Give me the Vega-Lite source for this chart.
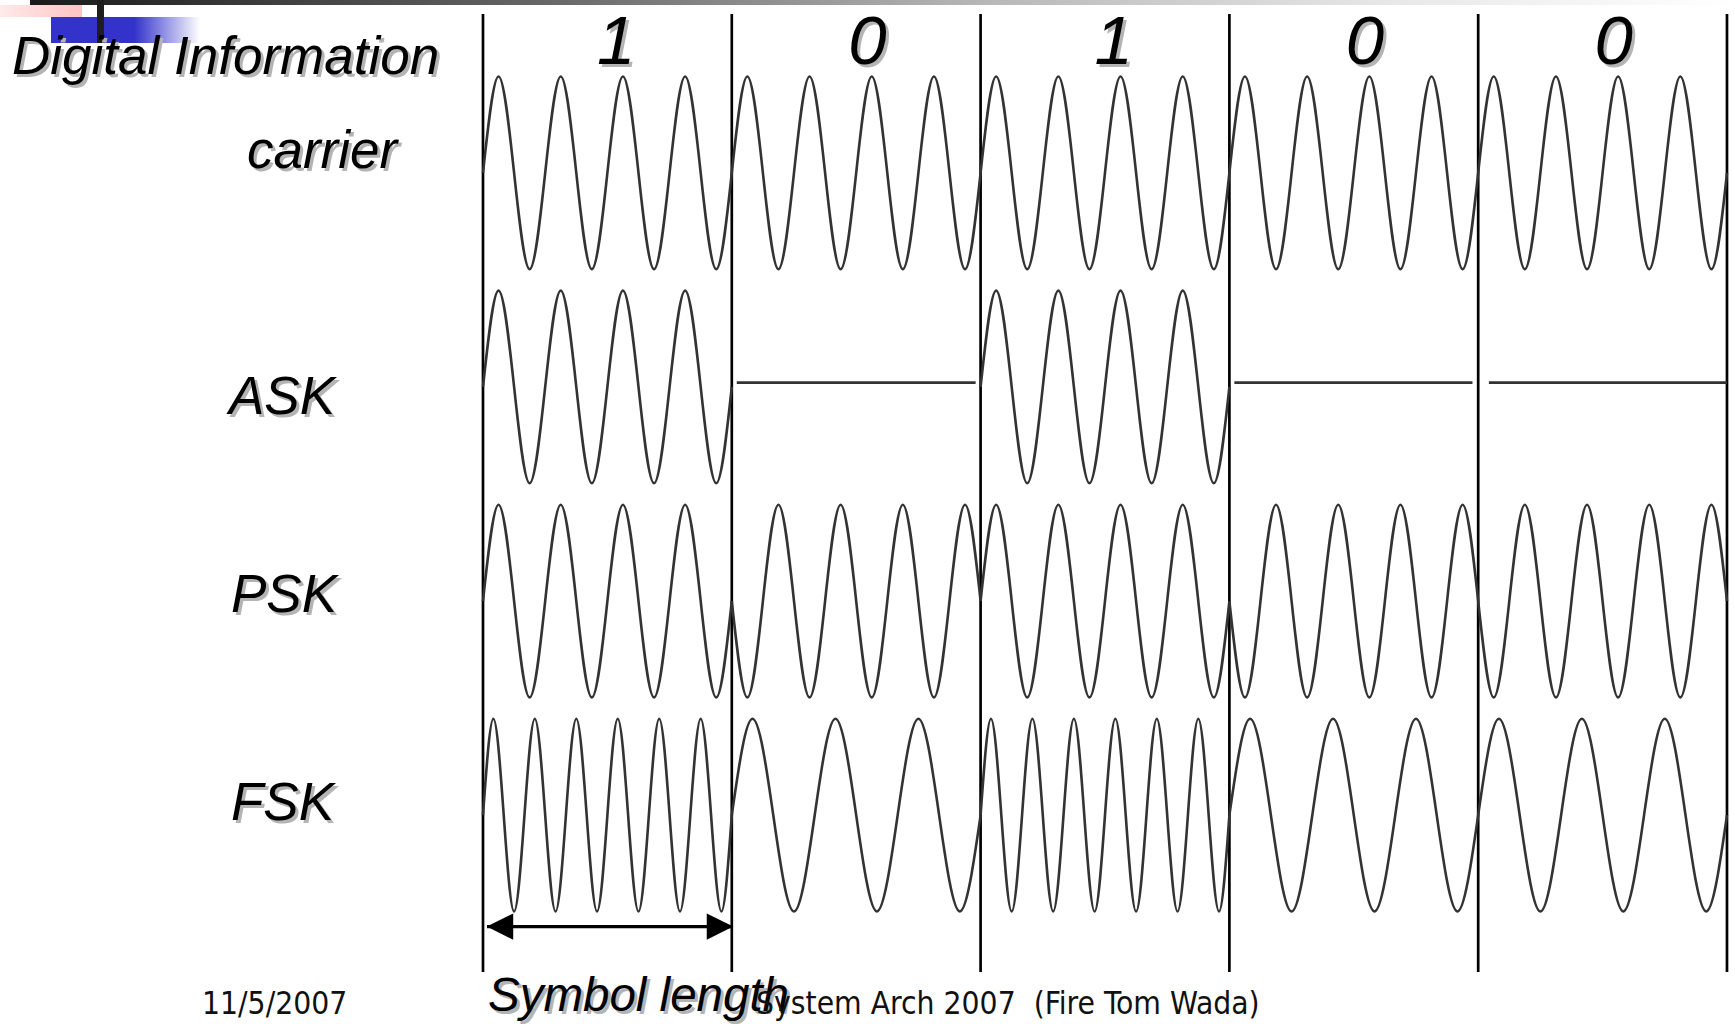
{
  "$schema": "https://vega.github.io/schema/vega-lite/v6.json",
  "width": 1735,
  "height": 1024,
  "autosize": {"type": "fit", "contains": "padding"},
  "padding": 0,
  "background": "white",
  "config": {"view": {"stroke": null}},
  "datasets": {
    "waves": [
      {"s":"carrier","g":"c","t":0,"y":0},{"s":"carrier","g":"c","t":0.0625,"y":0.45},{"s":"carrier","g":"c","t":0.125,"y":0},{"s":"carrier","g":"c","t":0.1875,"y":-0.45},
      {"s":"carrier","g":"c","t":0.25,"y":0},{"s":"carrier","g":"c","t":0.3125,"y":0.45},{"s":"carrier","g":"c","t":0.375,"y":0},{"s":"carrier","g":"c","t":0.4375,"y":-0.45},
      {"s":"carrier","g":"c","t":0.5,"y":0},{"s":"carrier","g":"c","t":0.5625,"y":0.45},{"s":"carrier","g":"c","t":0.625,"y":0},{"s":"carrier","g":"c","t":0.6875,"y":-0.45},
      {"s":"carrier","g":"c","t":0.75,"y":0},{"s":"carrier","g":"c","t":0.8125,"y":0.45},{"s":"carrier","g":"c","t":0.875,"y":0},{"s":"carrier","g":"c","t":0.9375,"y":-0.45},
      {"s":"carrier","g":"c","t":1,"y":0},{"s":"carrier","g":"c","t":1.0625,"y":0.45},{"s":"carrier","g":"c","t":1.125,"y":0},{"s":"carrier","g":"c","t":1.1875,"y":-0.45},
      {"s":"carrier","g":"c","t":1.25,"y":0},{"s":"carrier","g":"c","t":1.3125,"y":0.45},{"s":"carrier","g":"c","t":1.375,"y":0},{"s":"carrier","g":"c","t":1.4375,"y":-0.45},
      {"s":"carrier","g":"c","t":1.5,"y":0},{"s":"carrier","g":"c","t":1.5625,"y":0.45},{"s":"carrier","g":"c","t":1.625,"y":0},{"s":"carrier","g":"c","t":1.6875,"y":-0.45},
      {"s":"carrier","g":"c","t":1.75,"y":0},{"s":"carrier","g":"c","t":1.8125,"y":0.45},{"s":"carrier","g":"c","t":1.875,"y":0},{"s":"carrier","g":"c","t":1.9375,"y":-0.45},
      {"s":"carrier","g":"c","t":2,"y":0},{"s":"carrier","g":"c","t":2.0625,"y":0.45},{"s":"carrier","g":"c","t":2.125,"y":0},{"s":"carrier","g":"c","t":2.1875,"y":-0.45},
      {"s":"carrier","g":"c","t":2.25,"y":0},{"s":"carrier","g":"c","t":2.3125,"y":0.45},{"s":"carrier","g":"c","t":2.375,"y":0},{"s":"carrier","g":"c","t":2.4375,"y":-0.45},
      {"s":"carrier","g":"c","t":2.5,"y":0},{"s":"carrier","g":"c","t":2.5625,"y":0.45},{"s":"carrier","g":"c","t":2.625,"y":0},{"s":"carrier","g":"c","t":2.6875,"y":-0.45},
      {"s":"carrier","g":"c","t":2.75,"y":0},{"s":"carrier","g":"c","t":2.8125,"y":0.45},{"s":"carrier","g":"c","t":2.875,"y":0},{"s":"carrier","g":"c","t":2.9375,"y":-0.45},
      {"s":"carrier","g":"c","t":3,"y":0},{"s":"carrier","g":"c","t":3.0625,"y":0.45},{"s":"carrier","g":"c","t":3.125,"y":0},{"s":"carrier","g":"c","t":3.1875,"y":-0.45},
      {"s":"carrier","g":"c","t":3.25,"y":0},{"s":"carrier","g":"c","t":3.3125,"y":0.45},{"s":"carrier","g":"c","t":3.375,"y":0},{"s":"carrier","g":"c","t":3.4375,"y":-0.45},
      {"s":"carrier","g":"c","t":3.5,"y":0},{"s":"carrier","g":"c","t":3.5625,"y":0.45},{"s":"carrier","g":"c","t":3.625,"y":0},{"s":"carrier","g":"c","t":3.6875,"y":-0.45},
      {"s":"carrier","g":"c","t":3.75,"y":0},{"s":"carrier","g":"c","t":3.8125,"y":0.45},{"s":"carrier","g":"c","t":3.875,"y":0},{"s":"carrier","g":"c","t":3.9375,"y":-0.45},
      {"s":"carrier","g":"c","t":4,"y":0},{"s":"carrier","g":"c","t":4.0625,"y":0.45},{"s":"carrier","g":"c","t":4.125,"y":0},{"s":"carrier","g":"c","t":4.1875,"y":-0.45},
      {"s":"carrier","g":"c","t":4.25,"y":0},{"s":"carrier","g":"c","t":4.3125,"y":0.45},{"s":"carrier","g":"c","t":4.375,"y":0},{"s":"carrier","g":"c","t":4.4375,"y":-0.45},
      {"s":"carrier","g":"c","t":4.5,"y":0},{"s":"carrier","g":"c","t":4.5625,"y":0.45},{"s":"carrier","g":"c","t":4.625,"y":0},{"s":"carrier","g":"c","t":4.6875,"y":-0.45},
      {"s":"carrier","g":"c","t":4.75,"y":0},{"s":"carrier","g":"c","t":4.8125,"y":0.45},{"s":"carrier","g":"c","t":4.875,"y":0},{"s":"carrier","g":"c","t":4.9375,"y":-0.45},
      {"s":"carrier","g":"c","t":5,"y":0},

      {"s":"ask","g":"a0","t":0,"y":-1},{"s":"ask","g":"a0","t":0.0625,"y":-0.55},{"s":"ask","g":"a0","t":0.125,"y":-1},{"s":"ask","g":"a0","t":0.1875,"y":-1.45},
      {"s":"ask","g":"a0","t":0.25,"y":-1},{"s":"ask","g":"a0","t":0.3125,"y":-0.55},{"s":"ask","g":"a0","t":0.375,"y":-1},{"s":"ask","g":"a0","t":0.4375,"y":-1.45},
      {"s":"ask","g":"a0","t":0.5,"y":-1},{"s":"ask","g":"a0","t":0.5625,"y":-0.55},{"s":"ask","g":"a0","t":0.625,"y":-1},{"s":"ask","g":"a0","t":0.6875,"y":-1.45},
      {"s":"ask","g":"a0","t":0.75,"y":-1},{"s":"ask","g":"a0","t":0.8125,"y":-0.55},{"s":"ask","g":"a0","t":0.875,"y":-1},{"s":"ask","g":"a0","t":0.9375,"y":-1.45},
      {"s":"ask","g":"a0","t":1,"y":-1},
      {"s":"askflat","g":"a1","t":1.02,"y":-0.98},{"s":"askflat","g":"a1","t":1.98,"y":-0.98},
      {"s":"ask","g":"a2","t":2,"y":-1},{"s":"ask","g":"a2","t":2.0625,"y":-0.55},{"s":"ask","g":"a2","t":2.125,"y":-1},{"s":"ask","g":"a2","t":2.1875,"y":-1.45},
      {"s":"ask","g":"a2","t":2.25,"y":-1},{"s":"ask","g":"a2","t":2.3125,"y":-0.55},{"s":"ask","g":"a2","t":2.375,"y":-1},{"s":"ask","g":"a2","t":2.4375,"y":-1.45},
      {"s":"ask","g":"a2","t":2.5,"y":-1},{"s":"ask","g":"a2","t":2.5625,"y":-0.55},{"s":"ask","g":"a2","t":2.625,"y":-1},{"s":"ask","g":"a2","t":2.6875,"y":-1.45},
      {"s":"ask","g":"a2","t":2.75,"y":-1},{"s":"ask","g":"a2","t":2.8125,"y":-0.55},{"s":"ask","g":"a2","t":2.875,"y":-1},{"s":"ask","g":"a2","t":2.9375,"y":-1.45},
      {"s":"ask","g":"a2","t":3,"y":-1},
      {"s":"askflat","g":"a3","t":3.02,"y":-0.98},{"s":"askflat","g":"a3","t":3.977,"y":-0.98},
      {"s":"askflat","g":"a4","t":4.043,"y":-0.98},{"s":"askflat","g":"a4","t":5.0,"y":-0.98},

      {"s":"psk","g":"p0","t":0,"y":-2},{"s":"psk","g":"p0","t":0.0625,"y":-1.55},{"s":"psk","g":"p0","t":0.125,"y":-2},{"s":"psk","g":"p0","t":0.1875,"y":-2.45},
      {"s":"psk","g":"p0","t":0.25,"y":-2},{"s":"psk","g":"p0","t":0.3125,"y":-1.55},{"s":"psk","g":"p0","t":0.375,"y":-2},{"s":"psk","g":"p0","t":0.4375,"y":-2.45},
      {"s":"psk","g":"p0","t":0.5,"y":-2},{"s":"psk","g":"p0","t":0.5625,"y":-1.55},{"s":"psk","g":"p0","t":0.625,"y":-2},{"s":"psk","g":"p0","t":0.6875,"y":-2.45},
      {"s":"psk","g":"p0","t":0.75,"y":-2},{"s":"psk","g":"p0","t":0.8125,"y":-1.55},{"s":"psk","g":"p0","t":0.875,"y":-2},{"s":"psk","g":"p0","t":0.9375,"y":-2.45},
      {"s":"psk","g":"p0","t":1,"y":-2},
      {"s":"psk","g":"p1","t":1,"y":-2},{"s":"psk","g":"p1","t":1.0625,"y":-2.45},{"s":"psk","g":"p1","t":1.125,"y":-2},{"s":"psk","g":"p1","t":1.1875,"y":-1.55},
      {"s":"psk","g":"p1","t":1.25,"y":-2},{"s":"psk","g":"p1","t":1.3125,"y":-2.45},{"s":"psk","g":"p1","t":1.375,"y":-2},{"s":"psk","g":"p1","t":1.4375,"y":-1.55},
      {"s":"psk","g":"p1","t":1.5,"y":-2},{"s":"psk","g":"p1","t":1.5625,"y":-2.45},{"s":"psk","g":"p1","t":1.625,"y":-2},{"s":"psk","g":"p1","t":1.6875,"y":-1.55},
      {"s":"psk","g":"p1","t":1.75,"y":-2},{"s":"psk","g":"p1","t":1.8125,"y":-2.45},{"s":"psk","g":"p1","t":1.875,"y":-2},{"s":"psk","g":"p1","t":1.9375,"y":-1.55},
      {"s":"psk","g":"p1","t":2,"y":-2},
      {"s":"psk","g":"p2","t":2,"y":-2},{"s":"psk","g":"p2","t":2.0625,"y":-1.55},{"s":"psk","g":"p2","t":2.125,"y":-2},{"s":"psk","g":"p2","t":2.1875,"y":-2.45},
      {"s":"psk","g":"p2","t":2.25,"y":-2},{"s":"psk","g":"p2","t":2.3125,"y":-1.55},{"s":"psk","g":"p2","t":2.375,"y":-2},{"s":"psk","g":"p2","t":2.4375,"y":-2.45},
      {"s":"psk","g":"p2","t":2.5,"y":-2},{"s":"psk","g":"p2","t":2.5625,"y":-1.55},{"s":"psk","g":"p2","t":2.625,"y":-2},{"s":"psk","g":"p2","t":2.6875,"y":-2.45},
      {"s":"psk","g":"p2","t":2.75,"y":-2},{"s":"psk","g":"p2","t":2.8125,"y":-1.55},{"s":"psk","g":"p2","t":2.875,"y":-2},{"s":"psk","g":"p2","t":2.9375,"y":-2.45},
      {"s":"psk","g":"p2","t":3,"y":-2},
      {"s":"psk","g":"p3","t":3,"y":-2},{"s":"psk","g":"p3","t":3.0625,"y":-2.45},{"s":"psk","g":"p3","t":3.125,"y":-2},{"s":"psk","g":"p3","t":3.1875,"y":-1.55},
      {"s":"psk","g":"p3","t":3.25,"y":-2},{"s":"psk","g":"p3","t":3.3125,"y":-2.45},{"s":"psk","g":"p3","t":3.375,"y":-2},{"s":"psk","g":"p3","t":3.4375,"y":-1.55},
      {"s":"psk","g":"p3","t":3.5,"y":-2},{"s":"psk","g":"p3","t":3.5625,"y":-2.45},{"s":"psk","g":"p3","t":3.625,"y":-2},{"s":"psk","g":"p3","t":3.6875,"y":-1.55},
      {"s":"psk","g":"p3","t":3.75,"y":-2},{"s":"psk","g":"p3","t":3.8125,"y":-2.45},{"s":"psk","g":"p3","t":3.875,"y":-2},{"s":"psk","g":"p3","t":3.9375,"y":-1.55},
      {"s":"psk","g":"p3","t":4,"y":-2},
      {"s":"psk","g":"p4","t":4,"y":-2},{"s":"psk","g":"p4","t":4.0625,"y":-2.45},{"s":"psk","g":"p4","t":4.125,"y":-2},{"s":"psk","g":"p4","t":4.1875,"y":-1.55},
      {"s":"psk","g":"p4","t":4.25,"y":-2},{"s":"psk","g":"p4","t":4.3125,"y":-2.45},{"s":"psk","g":"p4","t":4.375,"y":-2},{"s":"psk","g":"p4","t":4.4375,"y":-1.55},
      {"s":"psk","g":"p4","t":4.5,"y":-2},{"s":"psk","g":"p4","t":4.5625,"y":-2.45},{"s":"psk","g":"p4","t":4.625,"y":-2},{"s":"psk","g":"p4","t":4.6875,"y":-1.55},
      {"s":"psk","g":"p4","t":4.75,"y":-2},{"s":"psk","g":"p4","t":4.8125,"y":-2.45},{"s":"psk","g":"p4","t":4.875,"y":-2},{"s":"psk","g":"p4","t":4.9375,"y":-1.55},
      {"s":"psk","g":"p4","t":5,"y":-2},

      {"s":"fsk1","g":"f0","t":0,"y":-3},{"s":"fsk1","g":"f0","t":0.0417,"y":-2.55},{"s":"fsk1","g":"f0","t":0.0833,"y":-3},{"s":"fsk1","g":"f0","t":0.125,"y":-3.45},
      {"s":"fsk1","g":"f0","t":0.1667,"y":-3},{"s":"fsk1","g":"f0","t":0.2083,"y":-2.55},{"s":"fsk1","g":"f0","t":0.25,"y":-3},{"s":"fsk1","g":"f0","t":0.2917,"y":-3.45},
      {"s":"fsk1","g":"f0","t":0.3333,"y":-3},{"s":"fsk1","g":"f0","t":0.375,"y":-2.55},{"s":"fsk1","g":"f0","t":0.4167,"y":-3},{"s":"fsk1","g":"f0","t":0.4583,"y":-3.45},
      {"s":"fsk1","g":"f0","t":0.5,"y":-3},{"s":"fsk1","g":"f0","t":0.5417,"y":-2.55},{"s":"fsk1","g":"f0","t":0.5833,"y":-3},{"s":"fsk1","g":"f0","t":0.625,"y":-3.45},
      {"s":"fsk1","g":"f0","t":0.6667,"y":-3},{"s":"fsk1","g":"f0","t":0.7083,"y":-2.55},{"s":"fsk1","g":"f0","t":0.75,"y":-3},{"s":"fsk1","g":"f0","t":0.7917,"y":-3.45},
      {"s":"fsk1","g":"f0","t":0.8333,"y":-3},{"s":"fsk1","g":"f0","t":0.875,"y":-2.55},{"s":"fsk1","g":"f0","t":0.9167,"y":-3},{"s":"fsk1","g":"f0","t":0.9583,"y":-3.45},
      {"s":"fsk1","g":"f0","t":1,"y":-3},
      {"s":"fsk0","g":"f1","t":1,"y":-3},{"s":"fsk0","g":"f1","t":1.0833,"y":-2.55},{"s":"fsk0","g":"f1","t":1.1667,"y":-3},{"s":"fsk0","g":"f1","t":1.25,"y":-3.45},
      {"s":"fsk0","g":"f1","t":1.3333,"y":-3},{"s":"fsk0","g":"f1","t":1.4167,"y":-2.55},{"s":"fsk0","g":"f1","t":1.5,"y":-3},{"s":"fsk0","g":"f1","t":1.5833,"y":-3.45},
      {"s":"fsk0","g":"f1","t":1.6667,"y":-3},{"s":"fsk0","g":"f1","t":1.75,"y":-2.55},{"s":"fsk0","g":"f1","t":1.8333,"y":-3},{"s":"fsk0","g":"f1","t":1.9167,"y":-3.45},
      {"s":"fsk0","g":"f1","t":2,"y":-3},
      {"s":"fsk1","g":"f2","t":2,"y":-3},{"s":"fsk1","g":"f2","t":2.0417,"y":-2.55},{"s":"fsk1","g":"f2","t":2.0833,"y":-3},{"s":"fsk1","g":"f2","t":2.125,"y":-3.45},
      {"s":"fsk1","g":"f2","t":2.1667,"y":-3},{"s":"fsk1","g":"f2","t":2.2083,"y":-2.55},{"s":"fsk1","g":"f2","t":2.25,"y":-3},{"s":"fsk1","g":"f2","t":2.2917,"y":-3.45},
      {"s":"fsk1","g":"f2","t":2.3333,"y":-3},{"s":"fsk1","g":"f2","t":2.375,"y":-2.55},{"s":"fsk1","g":"f2","t":2.4167,"y":-3},{"s":"fsk1","g":"f2","t":2.4583,"y":-3.45},
      {"s":"fsk1","g":"f2","t":2.5,"y":-3},{"s":"fsk1","g":"f2","t":2.5417,"y":-2.55},{"s":"fsk1","g":"f2","t":2.5833,"y":-3},{"s":"fsk1","g":"f2","t":2.625,"y":-3.45},
      {"s":"fsk1","g":"f2","t":2.6667,"y":-3},{"s":"fsk1","g":"f2","t":2.7083,"y":-2.55},{"s":"fsk1","g":"f2","t":2.75,"y":-3},{"s":"fsk1","g":"f2","t":2.7917,"y":-3.45},
      {"s":"fsk1","g":"f2","t":2.8333,"y":-3},{"s":"fsk1","g":"f2","t":2.875,"y":-2.55},{"s":"fsk1","g":"f2","t":2.9167,"y":-3},{"s":"fsk1","g":"f2","t":2.9583,"y":-3.45},
      {"s":"fsk1","g":"f2","t":3,"y":-3},
      {"s":"fsk0","g":"f3","t":3,"y":-3},{"s":"fsk0","g":"f3","t":3.0833,"y":-2.55},{"s":"fsk0","g":"f3","t":3.1667,"y":-3},{"s":"fsk0","g":"f3","t":3.25,"y":-3.45},
      {"s":"fsk0","g":"f3","t":3.3333,"y":-3},{"s":"fsk0","g":"f3","t":3.4167,"y":-2.55},{"s":"fsk0","g":"f3","t":3.5,"y":-3},{"s":"fsk0","g":"f3","t":3.5833,"y":-3.45},
      {"s":"fsk0","g":"f3","t":3.6667,"y":-3},{"s":"fsk0","g":"f3","t":3.75,"y":-2.55},{"s":"fsk0","g":"f3","t":3.8333,"y":-3},{"s":"fsk0","g":"f3","t":3.9167,"y":-3.45},
      {"s":"fsk0","g":"f3","t":4,"y":-3},
      {"s":"fsk0","g":"f4","t":4,"y":-3},{"s":"fsk0","g":"f4","t":4.0833,"y":-2.55},{"s":"fsk0","g":"f4","t":4.1667,"y":-3},{"s":"fsk0","g":"f4","t":4.25,"y":-3.45},
      {"s":"fsk0","g":"f4","t":4.3333,"y":-3},{"s":"fsk0","g":"f4","t":4.4167,"y":-2.55},{"s":"fsk0","g":"f4","t":4.5,"y":-3},{"s":"fsk0","g":"f4","t":4.5833,"y":-3.45},
      {"s":"fsk0","g":"f4","t":4.6667,"y":-3},{"s":"fsk0","g":"f4","t":4.75,"y":-2.55},{"s":"fsk0","g":"f4","t":4.8333,"y":-3},{"s":"fsk0","g":"f4","t":4.9167,"y":-3.45},
      {"s":"fsk0","g":"f4","t":5,"y":-3}
    ],
    "rules": [
      {"t":0,"y":0.742,"y2":-3.733},{"t":1,"y":0.742,"y2":-3.733},{"t":2,"y":0.742,"y2":-3.733},
      {"t":3,"y":0.742,"y2":-3.733},{"t":4,"y":0.742,"y2":-3.733},{"t":5,"y":0.742,"y2":-3.733}
    ],
    "labels": [
      {"txt":"Digital Information","k":"label","t":-1.8931,"y":0.462},
      {"txt":"carrier","k":"label","t":-0.9486,"y":0.0234},
      {"txt":"ASK","k":"label","t":-1.0209,"y":-1.1246},
      {"txt":"PSK","k":"label","t":-1.0129,"y":-2.0532},
      {"txt":"FSK","k":"label","t":-1.0129,"y":-3.0238},
      {"txt":"Symbol length","k":"note","t":0.0201,"y":-3.9151}
    ],
    "bits": [
      {"bit":"1","t":0.535,"y":0.5087},{"bit":"0","t":1.545,"y":0.5087},{"bit":"1","t":2.535,"y":0.5087},
      {"bit":"0","t":3.545,"y":0.5087},{"bit":"0","t":4.545,"y":0.5087}
    ],
    "footer": [
      {"txt":"11/5/2007","t":-1.1294,"y":-3.9291},
      {"txt":"System Arch 2007\u00a0\u00a0(Fire Tom Wada)","t":1.0973,"y":-3.9291}
    ],
    "arrowline": [
      {"t":0.0161,"y":-3.5208},{"t":1.0048,"y":-3.5208}
    ],
    "arrowheads": [
      {"d":"left","t":0.0683,"y":-3.5208},{"d":"right","t":0.9526,"y":-3.5208}
    ],
    "topbar": [{"t":-1.8208,"t2":5.0322,"y":0.8073,"y2":0.784}],
    "pink": [{"t":-1.9413,"t2":-1.6117,"y":0.784,"y2":0.7279}],
    "blue": [{"t":-1.7363,"t2":-1.1375,"y":0.7279,"y2":0.6059}],
    "darkbar": [{"t":-1.5514,"t2":-1.5233,"y":0.8073,"y2":0.6066}]
  },
  "encoding": {
    "x": {"field": "t", "type": "quantitative", "axis": null, "scale": {"domain": [-1.9413, 5.0322], "nice": false, "zero": false}},
    "y": {"field": "y", "type": "quantitative", "axis": null, "scale": {"domain": [-3.971, 0.8073], "nice": false, "zero": false}}
  },
  "layer": [
    {
      "data": {"name": "topbar"},
      "mark": {"type": "rect", "fill": {"gradient": "linear", "x1": 0, "y1": 0, "x2": 1, "y2": 0, "stops": [{"offset": 0, "color": "#1a1a1a"}, {"offset": 0.3, "color": "#666666"}, {"offset": 0.55, "color": "#b5b5b5"}, {"offset": 0.8, "color": "#e8e8e8"}, {"offset": 1, "color": "#ffffff"}]}},
      "encoding": {"x2": {"field": "t2"}, "y2": {"field": "y2"}}
    },
    {
      "data": {"name": "pink"},
      "mark": {"type": "rect", "fill": {"gradient": "linear", "x1": 0, "y1": 0, "x2": 1, "y2": 0, "stops": [{"offset": 0, "color": "#ffeaea"}, {"offset": 1, "color": "#ffc4c4"}]}},
      "encoding": {"x2": {"field": "t2"}, "y2": {"field": "y2"}}
    },
    {
      "data": {"name": "blue"},
      "mark": {"type": "rect", "fill": {"gradient": "linear", "x1": 0, "y1": 0, "x2": 1, "y2": 0, "stops": [{"offset": 0, "color": "#3333cc"}, {"offset": 0.56, "color": "#3333cc"}, {"offset": 1, "color": "#ffffff"}]}},
      "encoding": {"x2": {"field": "t2"}, "y2": {"field": "y2"}}
    },
    {
      "data": {"name": "darkbar"},
      "mark": {"type": "rect", "fill": "#1e1e1e"},
      "encoding": {"x2": {"field": "t2"}, "y2": {"field": "y2"}}
    },
    {
      "data": {"name": "rules"},
      "mark": {"type": "rule", "color": "#000000", "strokeWidth": 2.7},
      "encoding": {"y2": {"field": "y2"}}
    },
    {
      "data": {"name": "waves"},
      "mark": {"type": "line", "interpolate": "natural", "color": "#333333"},
      "encoding": {
        "detail": {"field": "g", "type": "nominal"},
        "strokeWidth": {"field": "s", "type": "ordinal", "legend": null, "scale": {"domain": ["carrier", "ask", "askflat", "psk", "fsk1", "fsk0"], "range": [2.6, 2.6, 3, 2.6, 1.6, 3.0]}}
      }
    },
    {
      "data": {"name": "arrowline"},
      "mark": {"type": "line", "color": "#000000", "strokeWidth": 3.3},
      "encoding": {}
    },
    {
      "data": {"name": "arrowheads"},
      "mark": {"type": "point", "filled": true, "color": "#000000", "opacity": 1, "size": 700, "strokeWidth": 0},
      "encoding": {
        "shape": {"field": "d", "type": "nominal", "legend": null, "scale": {"domain": ["left", "right"], "range": ["M-1,0L1,-1L1,1Z", "M1,0L-1,-1L-1,1Z"]}}
      }
    },
    {
      "data": {"name": "labels"},
      "mark": {"type": "text", "align": "left", "baseline": "alphabetic", "font": "Liberation Sans", "fontStyle": "italic", "color": "#b4b4b4", "dx": 3, "dy": 3},
      "encoding": {
        "text": {"field": "txt"},
        "size": {"field": "k", "type": "ordinal", "legend": null, "scale": {"domain": ["label", "note"], "range": [53, 47.5]}}
      }
    },
    {
      "data": {"name": "labels"},
      "mark": {"type": "text", "align": "left", "baseline": "alphabetic", "font": "Liberation Sans", "fontStyle": "italic", "color": "#000000"},
      "encoding": {
        "text": {"field": "txt"},
        "size": {"field": "k", "type": "ordinal", "legend": null, "scale": {"domain": ["label", "note"], "range": [53, 47.5]}}
      }
    },
    {
      "data": {"name": "bits"},
      "mark": {"type": "text", "align": "center", "baseline": "alphabetic", "font": "Liberation Sans", "fontStyle": "italic", "fontSize": 69, "color": "#b4b4b4", "dx": 3, "dy": 3},
      "encoding": {"text": {"field": "bit"}}
    },
    {
      "data": {"name": "bits"},
      "mark": {"type": "text", "align": "center", "baseline": "alphabetic", "font": "Liberation Sans", "fontStyle": "italic", "fontSize": 69, "color": "#000000"},
      "encoding": {"text": {"field": "bit"}}
    },
    {
      "data": {"name": "footer"},
      "mark": {"type": "text", "align": "left", "baseline": "alphabetic", "font": "DejaVu Sans Condensed, DejaVu Sans", "fontSize": 31.5, "color": "#111111"},
      "encoding": {"text": {"field": "txt"}}
    }
  ]
}
